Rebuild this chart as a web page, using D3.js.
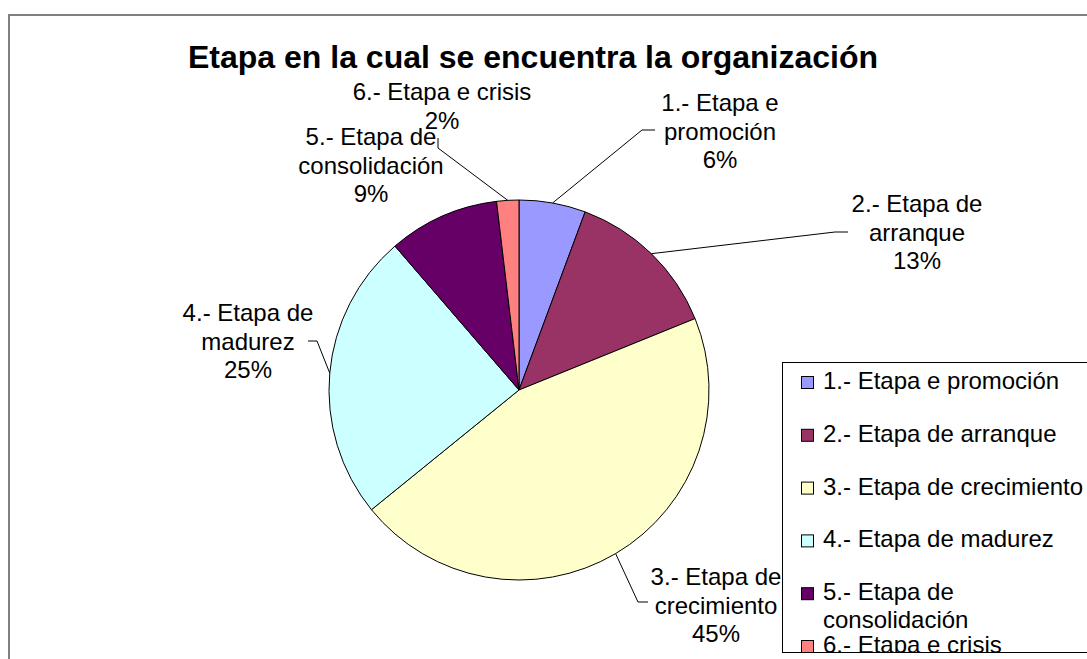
<!DOCTYPE html>
<html>
<head>
<meta charset="utf-8">
<script src="https://cdn.jsdelivr.net/npm/d3@7"></script>
<style>
  body { margin: 0; background: #fff; }
  svg { display: block; font-family: "Liberation Sans", Arial, sans-serif; }
</style>
</head>
<body>
<script>
// data (counts, shown as % of total)
var categories = ["1.- Etapa e promoción", "2.- Etapa de arranque", "3.- Etapa de crecimiento",
                  "4.- Etapa de madurez", "5.- Etapa de consolidación", "6.- Etapa e crisis"];
var counts = [3, 7, 24, 13, 5, 1];
var labelLines = [["1.- Etapa e", "promoción"], ["2.- Etapa de", "arranque"], ["3.- Etapa de", "crecimiento"],
                  ["4.- Etapa de", "madurez"], ["5.- Etapa de", "consolidación"], ["6.- Etapa e crisis"]];
var colors = ["#9999FF", "#993366", "#FFFFCC", "#CCFFFF", "#660066", "#FF8080"];
var title = "Etapa en la cual se encuentra la organización";

var width = 1087, height = 659;
var cx = 519, cy = 390, radius = 190;

// label layout: centre x, first baseline, leader knee and leader end (null = no leader)
var labelLayout = [
  {x: 720, y: 111, knee: [642, 130], end: [655, 130]},
  {x: 917, y: 212, knee: [835, 232], end: [848, 232]},
  {x: 716, y: 585, knee: [638, 602], end: [648, 602]},
  {x: 248, y: 321, knee: [317, 341], end: [308, 341]},
  {x: 371, y: 145, knee: null, end: null},
  {x: 442, y: 100, knee: [438, 148], end: [438, 138]}
];
var lineH = 28.7;

var total = d3.sum(counts);
var data = categories.map(function(c, i) {
  return {name: c, value: counts[i], lines: labelLines[i], color: colors[i], layout: labelLayout[i]};
});

var svg = d3.select("body").append("svg")
    .attr("width", width)
    .attr("height", height);

// outer chart frame
svg.append("rect")
    .attr("x", 9).attr("y", 15)
    .attr("width", 1200).attr("height", 800)
    .attr("fill", "none")
    .attr("stroke", "#808080")
    .attr("stroke-width", 2);

svg.append("text")
    .attr("x", 533).attr("y", 68)
    .attr("text-anchor", "middle")
    .attr("font-size", 32)
    .attr("font-weight", "bold")
    .text(title);

var pie = d3.pie().sort(null).value(function(d) { return d.value; });
var arc = d3.arc().innerRadius(0).outerRadius(radius);
var edge = d3.arc().innerRadius(radius).outerRadius(radius);
var arcs = pie(data);

var g = svg.append("g").attr("transform", "translate(" + cx + "," + cy + ")");

g.selectAll(".slice")
    .data(arcs)
  .enter().append("path")
    .attr("class", "slice")
    .attr("d", arc)
    .attr("fill", function(d) { return d.data.color; })
    .attr("stroke", "#000")
    .attr("stroke-width", 1);

// leader lines
arcs.forEach(function(d) {
  var L = d.data.layout;
  if (!L.knee) return;
  var p = edge.centroid(d);
  var pts = [[p[0] + cx, p[1] + cy], L.knee, L.end];
  svg.append("path")
      .attr("d", d3.line()(pts))
      .attr("fill", "none")
      .attr("stroke", "#000")
      .attr("stroke-width", 1);
});

// data labels
arcs.forEach(function(d) {
  var L = d.data.layout;
  var lines = d.data.lines.concat([Math.round(d.value / total * 100) + "%"]);
  var t = svg.append("text")
      .attr("text-anchor", "middle")
      .attr("font-size", 24)
      .attr("fill", "#000");
  lines.forEach(function(s, k) {
    t.append("tspan").attr("x", L.x).attr("y", L.y + k * lineH).text(s);
  });
});

// legend
var lx = 782, ly = 362, lw = 400, lh = 290;
svg.append("clipPath").attr("id", "legclip")
  .append("rect").attr("x", lx).attr("y", ly).attr("width", lw).attr("height", lh);

var leg = svg.append("g").attr("clip-path", "url(#legclip)");
leg.append("rect")
    .attr("x", lx + 0.5).attr("y", ly + 0.5)
    .attr("width", lw).attr("height", lh)
    .attr("fill", "#fff");

var step = 52.8, firstBase = 389, maxW = 268;
data.forEach(function(d, i) {
  var base = firstBase + i * step;
  leg.append("rect")
      .attr("x", 801.5).attr("y", base - 12.5)
      .attr("width", 12).attr("height", 12)
      .attr("fill", d.color)
      .attr("stroke", "#000")
      .attr("stroke-width", 1);
  var t = leg.append("text").attr("font-size", 24).attr("fill", "#000");
  // simple word wrap inside the legend width
  var words = d.name.split(" "), line = [], row = 0;
  var ts = t.append("tspan").attr("x", 823).attr("y", base);
  words.forEach(function(w) {
    line.push(w);
    ts.text(line.join(" "));
    if (ts.node().getComputedTextLength() > maxW && line.length > 1) {
      line.pop();
      ts.text(line.join(" "));
      line = [w];
      row++;
      ts = t.append("tspan").attr("x", 823).attr("y", base + row * 28).text(w);
    }
  });
});

svg.append("rect")
    .attr("x", lx + 0.5).attr("y", ly + 0.5)
    .attr("width", lw).attr("height", lh)
    .attr("fill", "none")
    .attr("stroke", "#000")
    .attr("stroke-width", 1);
</script>
</body>
</html>
